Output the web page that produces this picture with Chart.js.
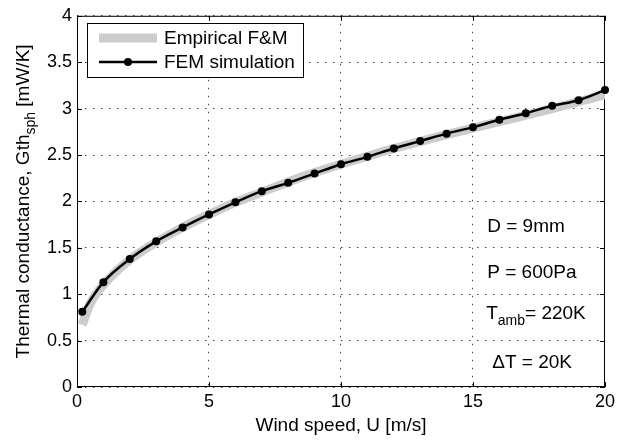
<!DOCTYPE html>
<html>
<head>
<meta charset="utf-8">
<script src="https://cdn.jsdelivr.net/npm/chart.js@4.4.0/dist/chart.umd.min.js"></script>
<style>
  html, body { margin: 0; padding: 0; background: #fff; }
</style>
</head>
<body>
<canvas id="chart" width="619" height="441"></canvas>
<script>
// values
const femSpeed = [0.2, 1, 2, 3, 4, 5, 6, 7, 8, 9, 10, 11, 12, 13, 14, 15, 16, 17, 18, 19, 20];
const femValues = [0.81, 1.13, 1.38, 1.57, 1.72, 1.86, 1.99, 2.11, 2.20, 2.30, 2.40, 2.48, 2.57, 2.65, 2.73, 2.80, 2.88, 2.95, 3.03, 3.09, 3.20];
const empiricalSpeed = [0.2, 0.5, 1, 2, 3, 4, 5, 6, 7, 8, 9, 10, 12, 14, 16, 18, 20];
const empiricalValues = [0.67, 0.90, 1.10, 1.37, 1.56, 1.72, 1.86, 1.99, 2.10, 2.21, 2.31, 2.40, 2.57, 2.72, 2.86, 3.00, 3.15];
const xTicks = [0, 5, 10, 15, 20];
const yTicks = [0, 0.5, 1, 1.5, 2, 2.5, 3, 3.5, 4];
const yTickLabels = ['0', '0.5', '1', '1.5', '2', '2.5', '3', '3.5', '4'];
const seriesLabels = ['Empirical F&M', 'FEM simulation'];
const notes = ['D = 9mm', 'P = 600Pa', 'T|amb|= 220K', '\u0394T = 20K'];
const noteX = [15.54, 15.54, 15.5, 15.73];
const noteY = [1.73, 1.23, 0.79, 0.26];

const FONT = '"Liberation Sans", Arial, Helvetica, sans-serif';
Chart.defaults.font.family = FONT;
Chart.defaults.font.size = 18;
Chart.defaults.color = '#000';

const toPoints = (xs, ys) => xs.map((v, i) => ({ x: v, y: ys[i] }));

// text with an optional subscript part written as a|sub|b
function drawRich(ctx, str, x, y, size) {
  let cx = x;
  str.split('|').forEach((p, i) => {
    const sub = i % 2 === 1;
    ctx.font = (sub ? Math.round(size * 0.75) : size) + 'px ' + FONT;
    ctx.fillText(p, cx, sub ? y + size * 0.38 : y);
    cx += ctx.measureText(p).width;
  });
  return cx - x;
}
function richWidth(ctx, str, size) {
  let w = 0;
  str.split('|').forEach((p, i) => {
    ctx.font = (i % 2 === 1 ? Math.round(size * 0.75) : size) + 'px ' + FONT;
    w += ctx.measureText(p).width;
  });
  return w;
}

const matlabFrame = {
  id: 'matlabFrame',
  beforeDatasetsDraw(chart) {
    const { ctx, chartArea: a, scales: { x, y } } = chart;
    ctx.save();
    ctx.strokeStyle = '#000';
    ctx.lineWidth = 1;
    ctx.strokeRect(a.left + 0.5, a.top + 0.5, a.right - a.left - 1, a.bottom - a.top - 1);
    ctx.beginPath();
    xTicks.forEach(v => {
      const px = Math.round(x.getPixelForValue(v)) + 0.5;
      ctx.moveTo(px, a.bottom); ctx.lineTo(px, a.bottom - 5);
      ctx.moveTo(px, a.top); ctx.lineTo(px, a.top + 5);
    });
    yTicks.forEach(v => {
      const py = Math.round(y.getPixelForValue(v)) + 0.5;
      ctx.moveTo(a.left, py); ctx.lineTo(a.left + 5, py);
      ctx.moveTo(a.right, py); ctx.lineTo(a.right - 5, py);
    });
    ctx.stroke();
    ctx.restore();
  },
  afterDatasetsDraw(chart) {
    const { ctx, chartArea: a, scales: { x, y } } = chart;
    ctx.save();
    ctx.textBaseline = 'middle';

    // legend box
    const lx = a.left + 10, ly = 23, lw = 216, lh = 54;
    ctx.fillStyle = '#fff';
    ctx.fillRect(lx, ly, lw, lh);
    ctx.strokeStyle = '#000';
    ctx.lineWidth = 1;
    ctx.strokeRect(lx + 0.5, ly + 0.5, lw, lh);
    ctx.strokeStyle = '#cccccc';
    ctx.lineWidth = 9;
    ctx.beginPath(); ctx.moveTo(lx + 12, ly + 15); ctx.lineTo(lx + 70, ly + 15); ctx.stroke();
    ctx.strokeStyle = '#000';
    ctx.lineWidth = 2.5;
    ctx.beginPath(); ctx.moveTo(lx + 12, ly + 39); ctx.lineTo(lx + 70, ly + 39); ctx.stroke();
    ctx.fillStyle = '#000';
    ctx.beginPath(); ctx.arc(lx + 41, ly + 39, 4, 0, Math.PI * 2); ctx.fill();
    ctx.font = '19px ' + FONT;
    ctx.fillText(seriesLabels[0], lx + 77, ly + 16);
    ctx.fillText(seriesLabels[1], lx + 77, ly + 40);

    // parameter notes
    notes.forEach((t, i) => {
      drawRich(ctx, t, x.getPixelForValue(noteX[i]), y.getPixelForValue(noteY[i]), 19);
    });

    // y axis title with subscript
    const title = 'Thermal conductance, Gth|sph| [mW/K]';
    ctx.translate(24, (a.top + a.bottom) / 2);
    ctx.rotate(-Math.PI / 2);
    const w = richWidth(ctx, title, 19);
    drawRich(ctx, title, -w / 2, 0, 19);
    ctx.restore();
  }
};

new Chart(document.getElementById('chart'), {
  type: 'line',
  data: {
    datasets: [{
      label: seriesLabels[0],
      data: toPoints(empiricalSpeed, empiricalValues),
      borderColor: '#cccccc',
      borderWidth: 9,
      pointRadius: 0,
      cubicInterpolationMode: 'monotone',
      order: 2
    }, {
      label: seriesLabels[1],
      data: toPoints(femSpeed, femValues),
      borderColor: '#000',
      backgroundColor: '#000',
      borderWidth: 2.5,
      pointRadius: 4,
      pointBorderWidth: 0,
      pointBackgroundColor: '#000',
      cubicInterpolationMode: 'monotone',
      clip: false,
      order: 1
    }]
  },
  options: {
    responsive: false,
    animation: false,
    devicePixelRatio: 1,
    layout: { padding: { top: 13, right: 13, left: 0, bottom: 0 } },
    plugins: { legend: { display: false }, tooltip: { enabled: false } },
    scales: {
      x: {
        type: 'linear',
        min: 0,
        max: 20,
        afterBuildTicks: s => { s.ticks = xTicks.map(v => ({ value: v })); },
        afterFit: s => { s.height = 54; },
        ticks: { padding: 4, maxRotation: 0, font: { size: 18 } },
        grid: { color: '#444', lineWidth: 1, drawTicks: false },
        border: { display: false, dash: [1.5, 6.5] },
        title: { display: true, text: 'Wind speed, U [m/s]', font: { size: 19 }, padding: { top: 0, bottom: 4 } }
      },
      y: {
        min: 0,
        max: 4,
        afterBuildTicks: s => { s.ticks = yTicks.map(v => ({ value: v })); },
        afterFit: s => { s.width = 77; },
        ticks: { padding: 5, font: { size: 18 }, callback: (v, i) => yTickLabels[i] },
        grid: { color: '#444', lineWidth: 1, drawTicks: false },
        border: { display: false, dash: [1.5, 6.5] }
      }
    }
  },
  plugins: [matlabFrame]
});
</script>
</body>
</html>
